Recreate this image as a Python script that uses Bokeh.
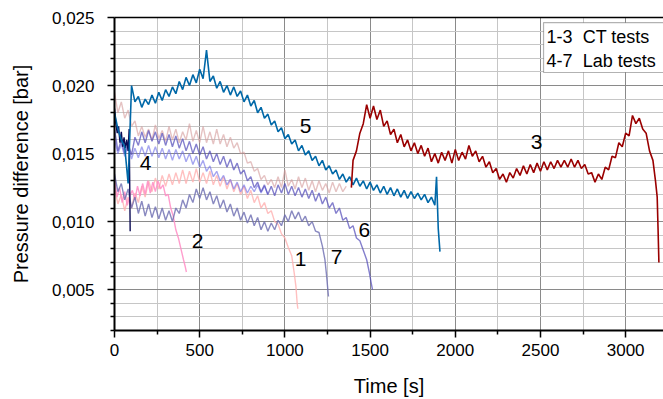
from bokeh.plotting import figure
from bokeh.models import (FixedTicker, CustomJSTickFormatter, LinearAxis, BoxAnnotation,
                          Label, ColumnDataSource)
from bokeh.core.properties import value
from bokeh.embed import file_html
from bokeh.resources import INLINE

FONT = "Liberation Sans"

# ---------------- data ----------------
# series 5 (blue)
t5 = [0, 20, 40, 60, 80, 100, 120, 140, 160, 180, 200, 220, 240, 260, 280, 300, 320, 340, 360, 380,
      400, 420, 440, 460, 480, 500, 520, 540, 560, 580, 600, 620, 640, 660, 680, 700, 720, 740, 760, 780,
      800, 820, 840, 860, 880, 900, 920, 940, 960, 980, 1000, 1020, 1040, 1060, 1080, 1100, 1120, 1140,
      1160, 1180, 1200, 1220, 1240, 1260, 1280, 1300, 1320, 1340, 1360, 1380, 1400, 1420, 1440, 1460,
      1480, 1500, 1520, 1540, 1560, 1580, 1600, 1620, 1640, 1660, 1680, 1700, 1720, 1740, 1760, 1780,
      1800, 1820, 1840, 1860, 1880, 1890, 1900, 1910]
v5 = [0.0180, 0.0168, 0.0160, 0.0155, 0.0128, 0.0200, 0.0188, 0.0192, 0.0184, 0.0190, 0.0186, 0.0193,
      0.0187, 0.0195, 0.0189, 0.0197, 0.0192, 0.0199, 0.0194, 0.0203, 0.0197, 0.0206, 0.0200, 0.0208,
      0.0202, 0.0212, 0.0205, 0.0226, 0.0203, 0.0207, 0.0198, 0.0203, 0.0195, 0.0200, 0.0193, 0.0199,
      0.0192, 0.0196, 0.0188, 0.0193, 0.0185, 0.0189, 0.0180, 0.0184, 0.0176, 0.0179, 0.0171, 0.0174,
      0.0166, 0.0169, 0.0161, 0.0164, 0.0157, 0.0160, 0.0152, 0.0156, 0.0149, 0.0152, 0.0145, 0.0148,
      0.0141, 0.0145, 0.0138, 0.0141, 0.0135, 0.0138, 0.0131, 0.0135, 0.0129, 0.0133, 0.0127, 0.0132,
      0.0126, 0.0130, 0.0124, 0.0129, 0.0123, 0.0127, 0.0121, 0.0126, 0.0120, 0.0125, 0.0119, 0.0124,
      0.0118, 0.0123, 0.0117, 0.0122, 0.0117, 0.0121, 0.0116, 0.0120, 0.0114, 0.0118, 0.0112, 0.0133,
      0.0095, 0.0078]

# series 3 (dark red)
t3 = [1390, 1400, 1420, 1440, 1460, 1480, 1500, 1520, 1540, 1560, 1580, 1600, 1620, 1640, 1660, 1680,
      1700, 1720, 1740, 1760, 1780, 1800, 1820, 1840, 1860, 1880, 1900, 1920, 1940, 1960, 1980, 2000,
      2020, 2040, 2060, 2080, 2100, 2120, 2140, 2160, 2180, 2200, 2220, 2240, 2260, 2280, 2300, 2320,
      2340, 2360, 2380, 2400, 2420, 2440, 2460, 2480, 2500, 2520, 2540, 2560, 2580, 2600, 2620, 2640,
      2660, 2680, 2700, 2720, 2740, 2760, 2780, 2800, 2820, 2840, 2860, 2880, 2900, 2920, 2940, 2960,
      2980, 3000, 3020, 3040, 3060, 3080, 3100, 3120, 3140, 3160, 3175, 3185, 3190, 3195]
v3 = [0.0125, 0.0145, 0.0152, 0.0165, 0.0172, 0.0186, 0.0176, 0.0185, 0.0175, 0.0182, 0.0170, 0.0174,
      0.0164, 0.0168, 0.0158, 0.0164, 0.0155, 0.0160, 0.0152, 0.0158, 0.0150, 0.0156, 0.0148, 0.0154,
      0.0144, 0.0150, 0.0143, 0.0151, 0.0145, 0.0152, 0.0143, 0.0153, 0.0145, 0.0151, 0.0146, 0.0156,
      0.0148, 0.0152, 0.0144, 0.0148, 0.0140, 0.0144, 0.0136, 0.0139, 0.0131, 0.0135, 0.0129, 0.0136,
      0.0132, 0.0139, 0.0134, 0.0141, 0.0135, 0.0142, 0.0136, 0.0143, 0.0137, 0.0144, 0.0138, 0.0144,
      0.0139, 0.0145, 0.0140, 0.0145, 0.0140, 0.0146, 0.0140, 0.0145, 0.0139, 0.0142, 0.0135, 0.0136,
      0.0129, 0.0135, 0.0131, 0.0140, 0.0138, 0.0148, 0.0147, 0.0158, 0.0155, 0.0165, 0.0163, 0.0178,
      0.0172, 0.0176, 0.0168, 0.0165, 0.0152, 0.0145, 0.0130, 0.0118, 0.0095, 0.0070]

# rosy-brown series
tr = [0, 20, 40, 60, 80, 100, 120, 140, 160, 180, 200, 220, 240, 260, 280, 300, 320, 340, 360, 380,
      400, 420, 440, 460, 480, 500, 520, 540, 560, 580, 600, 620, 640, 660, 680, 700, 720, 740, 760, 780,
      800, 820, 840, 860, 880, 900, 920, 940, 960, 980, 1000, 1020, 1040, 1060, 1080, 1100, 1120, 1140,
      1160, 1180, 1200, 1220, 1240, 1260, 1280, 1300, 1320, 1340, 1360]
vr = [0.0195, 0.0180, 0.0188, 0.0176, 0.0182, 0.0170, 0.0174, 0.0163, 0.0170, 0.0162, 0.0168, 0.0160,
      0.0171, 0.0161, 0.0167, 0.0159, 0.0170, 0.0160, 0.0168, 0.0158, 0.0166, 0.0160, 0.0172, 0.0159,
      0.0167, 0.0158, 0.0170, 0.0158, 0.0166, 0.0157, 0.0168, 0.0157, 0.0164, 0.0155, 0.0162, 0.0154,
      0.0158, 0.0150, 0.0151, 0.0143, 0.0144, 0.0137, 0.0139, 0.0131, 0.0134, 0.0127, 0.0131, 0.0125,
      0.0133, 0.0125, 0.0138, 0.0126, 0.0131, 0.0124, 0.0133, 0.0125, 0.0132, 0.0123, 0.0130, 0.0122,
      0.0130, 0.0123, 0.0128, 0.0121, 0.0129, 0.0122, 0.0128, 0.0122, 0.0126]

# series 1 (light pink)
t1 = [0, 20, 40, 60, 80, 100, 120, 140, 160, 180, 200, 220, 240, 260, 280, 300, 320, 340, 360, 380,
      400, 420, 440, 460, 480, 500, 520, 540, 560, 580, 600, 620, 640, 660, 680, 700, 720, 740, 760, 780,
      800, 820, 840, 860, 880, 900, 920, 940, 960, 980, 1000, 1020, 1040, 1055, 1065, 1072, 1076]
v1 = [0.0125, 0.0113, 0.0120, 0.0108, 0.0118, 0.0110, 0.0121, 0.0114, 0.0126, 0.0118, 0.0130, 0.0122,
      0.0132, 0.0124, 0.0134, 0.0126, 0.0135, 0.0127, 0.0136, 0.0128, 0.0138, 0.0128, 0.0137, 0.0129,
      0.0139, 0.0129, 0.0136, 0.0128, 0.0137, 0.0127, 0.0134, 0.0126, 0.0133, 0.0124, 0.0131, 0.0122,
      0.0128, 0.0120, 0.0126, 0.0117, 0.0123, 0.0114, 0.0119, 0.0110, 0.0114, 0.0106, 0.0108, 0.0100,
      0.0098, 0.0091, 0.0088, 0.0081, 0.0075, 0.0062, 0.0052, 0.0040, 0.0036]

# series 2 (pink)
t2 = [0, 15, 30, 45, 60, 75, 90, 105, 120, 135, 150, 165, 180, 195, 210, 225, 240, 255, 270, 285,
      300, 315, 330, 345, 360, 375, 390, 405, 415, 422]
v2 = [0.0132, 0.0118, 0.0125, 0.0114, 0.0122, 0.0112, 0.0119, 0.0123, 0.0116, 0.0126, 0.0119, 0.0128,
      0.0120, 0.0130, 0.0121, 0.0129, 0.0122, 0.0130, 0.0124, 0.0127, 0.0119, 0.0120, 0.0110, 0.0104,
      0.0094, 0.0088, 0.0080, 0.0072, 0.0067, 0.0063]

# series 7 (grey-blue)
t7 = [0, 20, 40, 60, 80, 100, 120, 140, 160, 180, 200, 220, 240, 260, 280, 300, 320, 340, 360, 380,
      400, 420, 440, 460, 480, 500, 520, 540, 560, 580, 600, 620, 640, 660, 680, 700, 720, 740, 760, 780,
      800, 820, 840, 860, 880, 900, 920, 940, 960, 980, 1000, 1020, 1040, 1060, 1080, 1100, 1120, 1140,
      1160, 1180, 1200, 1220, 1235, 1245, 1252, 1256]
v7 = [0.0135, 0.0122, 0.0128, 0.0116, 0.0124, 0.0110, 0.0118, 0.0106, 0.0115, 0.0104, 0.0113, 0.0103,
      0.0111, 0.0102, 0.0110, 0.0101, 0.0108, 0.0100, 0.0110, 0.0106, 0.0116, 0.0110, 0.0120, 0.0114,
      0.0124, 0.0117, 0.0125, 0.0116, 0.0122, 0.0113, 0.0119, 0.0110, 0.0116, 0.0107, 0.0113, 0.0104,
      0.0110, 0.0101, 0.0107, 0.0099, 0.0105, 0.0097, 0.0103, 0.0094, 0.0100, 0.0093, 0.0099, 0.0094,
      0.0101, 0.0097, 0.0105, 0.0100, 0.0108, 0.0102, 0.0107, 0.0100, 0.0104, 0.0097, 0.0100, 0.0093,
      0.0092, 0.0082, 0.0072, 0.0060, 0.0050, 0.0045]

# series 6 (violet)
t6 = [0, 20, 40, 60, 80, 100, 120, 140, 160, 180, 200, 220, 240, 260, 280, 300, 320, 340, 360, 380,
      400, 420, 440, 460, 480, 500, 520, 540, 560, 580, 600, 620, 640, 660, 680, 700, 720, 740, 760, 780,
      800, 820, 840, 860, 880, 900, 920, 940, 960, 980, 1000, 1020, 1040, 1060, 1080, 1100, 1120, 1140,
      1160, 1180, 1200, 1220, 1240, 1260, 1280, 1300, 1320, 1340, 1360, 1380, 1400, 1420, 1440, 1460,
      1480, 1495, 1505, 1514]
v6 = [0.0168, 0.0152, 0.0160, 0.0150, 0.0157, 0.0149, 0.0162, 0.0156, 0.0166, 0.0158, 0.0167, 0.0159,
      0.0166, 0.0157, 0.0165, 0.0156, 0.0164, 0.0155, 0.0163, 0.0154, 0.0161, 0.0152, 0.0159, 0.0150,
      0.0157, 0.0149, 0.0155, 0.0146, 0.0152, 0.0144, 0.0150, 0.0142, 0.0148, 0.0140, 0.0146, 0.0138,
      0.0143, 0.0135, 0.0138, 0.0130, 0.0133, 0.0125, 0.0129, 0.0122, 0.0127, 0.0120, 0.0126, 0.0119,
      0.0127, 0.0121, 0.0128, 0.0120, 0.0126, 0.0119, 0.0125, 0.0118, 0.0124, 0.0117, 0.0123, 0.0115,
      0.0121, 0.0113, 0.0118, 0.0110, 0.0114, 0.0106, 0.0110, 0.0101, 0.0103, 0.0095, 0.0097, 0.0088,
      0.0086, 0.0079, 0.0072, 0.0063, 0.0056, 0.0050]

# series 4 (light blue-violet)
t4 = [0, 20, 40, 60, 80, 100, 120, 140, 160, 180, 200, 220, 240, 260, 280, 300, 320, 340, 360, 380,
      400, 420, 440, 460, 480, 500, 520, 540, 560, 580, 600, 620, 640, 660, 680, 700, 720, 740, 760, 780,
      800, 820, 840, 860, 880, 900]
v4 = [0.0160, 0.0150, 0.0157, 0.0148, 0.0155, 0.0146, 0.0154, 0.0147, 0.0155, 0.0148, 0.0156, 0.0148,
      0.0155, 0.0147, 0.0154, 0.0146, 0.0153, 0.0145, 0.0153, 0.0146, 0.0152, 0.0144, 0.0150, 0.0142,
      0.0148, 0.0140, 0.0145, 0.0137, 0.0141, 0.0133, 0.0137, 0.0130, 0.0134, 0.0127, 0.0131, 0.0124,
      0.0129, 0.0122, 0.0127, 0.0121, 0.0126, 0.0122, 0.0127, 0.0121, 0.0126, 0.0120]

# series 4 start (dark navy)
t4a = [0, 8, 16, 24, 32, 40, 48, 56, 64, 72, 80, 86, 90, 92]
v4a = [0.0183, 0.0172, 0.0165, 0.0170, 0.0158, 0.0166, 0.0155, 0.0162, 0.0154, 0.0160, 0.0152,
       0.0168, 0.0120, 0.0093]

# curve number labels
lab_text = ["1", "2", "3", "4", "5", "6", "7"]
lab_t = [1092, 487, 2477, 182, 1121, 1467, 1303]
lab_v = [0.00728, 0.00860, 0.01588, 0.01434, 0.01706, 0.00941, 0.00743]

legend_lines = ["1-3\u00a0\u00a0CT tests", "4-7\u00a0\u00a0Lab tests"]

x_major = [0, 500, 1000, 1500, 2000, 2500, 3000]
x_minor = [250, 750, 1250, 1750, 2250, 2750, 3250]
y_major = [0.005, 0.010, 0.015, 0.020, 0.025]
y_minor = [0.002, 0.003, 0.004, 0.006, 0.007, 0.008, 0.009, 0.011, 0.012, 0.013, 0.014,
           0.016, 0.017, 0.018, 0.019, 0.021, 0.022, 0.023, 0.024]

# ---------------- figure ----------------
p = figure(width=663, height=399, x_range=(0, 3222), y_range=(0.002, 0.025),
           output_backend="svg", toolbar_location=None,
           min_border_left=114, min_border_right=0, min_border_top=17, min_border_bottom=69)
p.outline_line_color = None
p.background_fill_color = "white"

xt = FixedTicker(ticks=x_major, minor_ticks=x_minor)
yt = FixedTicker(ticks=y_major, minor_ticks=y_minor)
p.xaxis.ticker = xt
p.yaxis.ticker = yt
p.xgrid.ticker = xt
p.ygrid.ticker = yt
for g in (p.xgrid, p.ygrid):
    g.grid_line_color = "#8a8a8a"
    g.grid_line_width = 1
    g.minor_grid_line_color = "#c6c6c6"
    g.minor_grid_line_width = 1

p.yaxis.formatter = CustomJSTickFormatter(code="return tick.toFixed(3).replace('.', ',');")

for ax in (p.xaxis, p.yaxis):
    ax.axis_line_color = "black"
    ax.axis_line_width = 2
    ax.major_tick_line_color = "black"
    ax.major_tick_line_width = 1.5
    ax.minor_tick_line_color = "black"
    ax.minor_tick_line_width = 1.5
    ax.major_tick_in = 0
    ax.minor_tick_in = 0
    ax.major_tick_out = 7
    ax.minor_tick_out = 4
    ax.major_label_text_font = FONT
    ax.major_label_text_font_size = "17px"
    ax.major_label_text_color = "black"
    ax.axis_label_text_font = FONT
    ax.axis_label_text_font_size = "20px"
    ax.axis_label_text_font_style = "normal"
    ax.axis_label_text_color = "black"

p.xaxis.axis_label = "Time [s]"
p.yaxis.axis_label = "Pressure difference [bar]"
p.xaxis.major_label_standoff = 6
p.yaxis.major_label_standoff = 13
p.xaxis.axis_label_standoff = 16
p.yaxis.axis_label_standoff = 17

top = LinearAxis(ticker=FixedTicker(ticks=[]), major_label_text_font_size="0px",
                 major_tick_line_color=None, minor_tick_line_color=None,
                 axis_line_color="black", axis_line_width=1.5)
p.add_layout(top, "above")

# ---------------- curves ----------------
p.line(t1, v1, line_color="#ffb0b0", line_alpha=0.8, line_width=1.4)
p.line(t2, v2, line_color="#ff8cc4", line_alpha=0.85, line_width=1.4)
p.line(tr, vr, line_color="#d49a9a", line_alpha=0.6, line_width=1.4)
p.line(t7, v7, line_color="#6c6cb0", line_alpha=0.8, line_width=1.4)
p.line(t4, v4, line_color="#6a6ae6", line_alpha=0.6, line_width=1.4)
p.line(t6, v6, line_color="#5048b8", line_alpha=0.7, line_width=1.4)
p.line(t4a, v4a, line_color="#0c0c55", line_width=1.4)
p.line(t5, v5, line_color="#0068a8", line_width=1.6)
p.line(t3, v3, line_color="#9a0000", line_width=1.6)

src = ColumnDataSource(dict(x=lab_t, y=lab_v, text=lab_text))
p.text(x="x", y="y", text="text", source=src, text_font=value(FONT), text_font_size="21px",
       text_align="center", text_baseline="middle", text_color="black")

# ---------------- legend box ----------------
p.add_layout(BoxAnnotation(left=2518, right=3400, bottom=0.02096, top=0.02463,
                           fill_color="white", fill_alpha=1, line_color="black", line_width=1.2))
p.add_layout(Label(x=2536, y=0.02360, text=legend_lines[0], text_font=FONT, text_font_size="18px",
                   text_baseline="middle", text_color="black"))
p.add_layout(Label(x=2536, y=0.02184, text=legend_lines[1], text_font=FONT, text_font_size="18px",
                   text_baseline="middle", text_color="black"))

open("out.html", "w").write(file_html(p, INLINE))
